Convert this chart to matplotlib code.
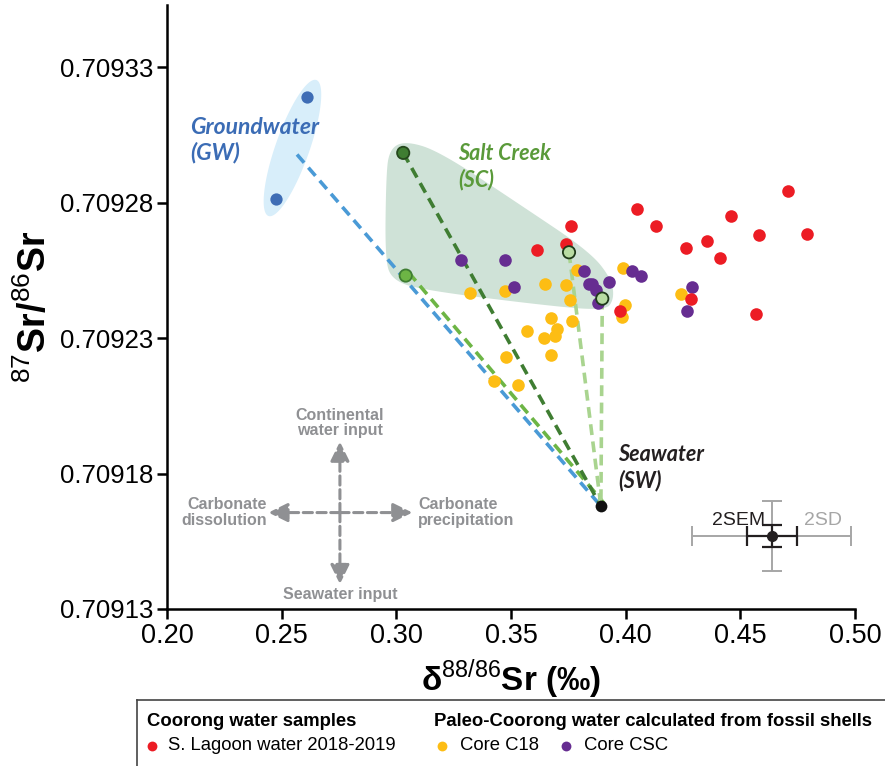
import numpy as np
import matplotlib
matplotlib.use("Agg")
import matplotlib.pyplot as plt
from matplotlib import transforms

plt.rcParams['font.family'] = ['Liberation Sans', 'DejaVu Sans']
plt.rcParams['mathtext.fontset'] = 'custom'
plt.rcParams['mathtext.rm'] = 'Liberation Sans'
plt.rcParams['mathtext.bf'] = 'Liberation Sans:bold'

# --- data (delta 88/86 Sr, 87Sr/86Sr) ---
lagoon_d = [0.4707, 0.4048, 0.4458, 0.3760, 0.4132, 0.4581, 0.4791, 0.3613, 0.3740,
            0.4262, 0.4356, 0.4410, 0.4284, 0.3977, 0.4570]
lagoon_sr = [0.7092842, 0.7092776, 0.7092750, 0.7092715, 0.7092715, 0.7092680, 0.7092683,
             0.7092627, 0.7092646, 0.7092633, 0.7092657, 0.7092597, 0.7092446, 0.7092399,
             0.7092389]

c18_d = [0.3320, 0.3475, 0.3647, 0.3740, 0.3756, 0.3788, 0.3676, 0.3767, 0.3568, 0.3645,
         0.3694, 0.3702, 0.3477, 0.3676, 0.3426, 0.3531, 0.3990, 0.3995, 0.3983, 0.4241]
c18_sr = [0.7092468, 0.7092475, 0.7092500, 0.7092495, 0.7092442, 0.7092553, 0.7092374,
          0.7092362, 0.7092326, 0.7092301, 0.7092307, 0.7092334, 0.7092229, 0.7092238,
          0.7092140, 0.7092128, 0.7092558, 0.7092422, 0.7092377, 0.7092463]

csc_d = [0.3282, 0.3473, 0.3512, 0.3820, 0.3838, 0.3855, 0.3871, 0.3929, 0.3880, 0.4029,
         0.4068, 0.4288, 0.4267]
csc_sr = [0.7092588, 0.7092588, 0.7092489, 0.7092549, 0.7092499, 0.7092500, 0.7092479,
          0.7092507, 0.7092428, 0.7092549, 0.7092528, 0.7092489, 0.7092399]

gw_d = [0.2610, 0.2475]
gw_sr = [0.7093192, 0.7092815]
gw_end = (0.2567, 0.7092978)

sc_d = [0.3030, 0.3041, 0.3753, 0.3898]
sc_sr = [0.7092984, 0.7092531, 0.7092617, 0.7092446]
sc_face = ['#3f7d32', '#6db545', '#b8dca3', '#b8dca3']
sc_edge = ['#25481d', '#3f7d32', '#1f3a1a', '#1f3a1a']

sw = (0.3892, 0.709168)

err_c = (0.4637, 0.709157)
sd_x, sd_y = 0.0347, 1.28e-5
sem_x, sem_y = 0.0110, 4.0e-6

xticks = [0.20, 0.25, 0.30, 0.35, 0.40, 0.45, 0.50]
yticks = [0.70913, 0.70918, 0.70923, 0.70928, 0.70933]

# Salt Creek field outline (smoothed)
sc_field = np.array([(0.2955, 0.7092885), (0.2968, 0.7092996), (0.3038, 0.7093029),
                     (0.3190, 0.7092989), (0.3539, 0.7092793), (0.3845, 0.7092619),
                     (0.3940, 0.7092516), (0.3949, 0.7092442), (0.3910, 0.7092401),
                     (0.3626, 0.7092423), (0.3103, 0.7092479), (0.2981, 0.7092516),
                     (0.2951, 0.7092590)])


def chaikin(pts, n=4):
    for _ in range(n):
        nxt = []
        for i in range(len(pts)):
            p, q = pts[i], pts[(i + 1) % len(pts)]
            nxt.append(0.75 * p + 0.25 * q)
            nxt.append(0.25 * p + 0.75 * q)
        pts = np.array(nxt)
    return pts


fig = plt.figure(figsize=(8.85, 7.66), dpi=100)
ax = fig.add_axes([167 / 885, 157 / 766, 688 / 885, 604 / 766])
ax.set_xlim(0.20, 0.50)
ax.set_ylim(0.70913, 0.709353)

# scale: data units per pixel
sx = 0.30 / 688
sy = 0.0002 / 541

# groundwater ellipse
t = np.linspace(0, 2 * np.pi, 200)
th = np.deg2rad(70.6)
a, b = 72, 17
u, v = a * np.cos(t), b * np.sin(t)
ex = 0.2547 + (u * np.cos(th) - v * np.sin(th)) * sx
ey = 0.7093002 + (u * np.sin(th) + v * np.cos(th)) * sy
ax.fill(ex, ey, color='#d8eefa', lw=0, zorder=1)

# Salt Creek field
sm = chaikin(sc_field)
ax.fill(sm[:, 0], sm[:, 1], color='#cfe2d7', lw=0, zorder=1)

# mixing lines
dash = (0, (3, 1.8))
ax.plot([gw_end[0], sw[0]], [gw_end[1], sw[1]], color='#4a9ad6', lw=2.6, ls=dash, zorder=2)
off = transforms.offset_copy(ax.transData, fig=fig, x=3, y=3, units='dots')
ax.plot([sc_d[1], sw[0]], [sc_sr[1], sw[1]], color='#6db545', lw=2.6, ls=dash, zorder=2,
        transform=off)
ax.plot([sc_d[0], sw[0]], [sc_sr[0], sw[1]], color='#3f7d32', lw=2.6, ls=dash, zorder=2)
ax.plot([sc_d[2], sw[0]], [sc_sr[2], sw[1]], color='#a9d48f', lw=2.6, ls=dash, zorder=2)
ax.plot([sc_d[3], sw[0]], [sc_sr[3], sw[1]], color='#a9d48f', lw=2.6, ls=dash, zorder=2)

# samples
ax.scatter(c18_d, c18_sr, s=82, color='#fdbd14', lw=0, zorder=3)
ax.scatter(csc_d, csc_sr, s=82, color='#662d91', lw=0, zorder=3)
ax.scatter(lagoon_d, lagoon_sr, s=82, color='#ec1c24', lw=0, zorder=3)
ax.scatter(gw_d, gw_sr, s=78, color='#3e6db5', lw=0, zorder=3)
ax.scatter(sc_d, sc_sr, s=78, c=sc_face, edgecolors=sc_edge, lw=1.3, zorder=4)
ax.scatter([sw[0]], [sw[1]], s=72, color='#111111', lw=0, zorder=4)

# end-member labels
ax.text(0.2100, 0.7093118, 'Groundwater\n(GW)', color='#3b6cb5', fontsize=16.5,
        fontweight='bold', style='italic', family='Lato', va='top', linespacing=1.25)
ax.text(0.3269, 0.7093022, 'Salt Creek\n(SC)', color='#5a9a3a', fontsize=15.5,
        fontweight='bold', style='italic', family='Lato', va='top', linespacing=1.3)
ax.text(0.3967, 0.709191, 'Seawater\n(SW)', color='#231f20', fontsize=15.5,
        fontweight='bold', style='italic', family='Lato', va='top', linespacing=1.3)

# process arrows
acx, acy = 0.2754, 0.7091656
tips = [(acx, 0.7091918), (acx, 0.7091392), (0.2442, acy), (0.3070, acy)]
for tip in tips:
    ax.annotate('', xy=tip, xytext=(acx, acy),
                arrowprops=dict(arrowstyle='-|>,head_length=0.65,head_width=0.32',
                                lw=2.2, ls=(0, (3, 1.5)), color='#8f9093',
                                shrinkA=0, shrinkB=0, mutation_scale=18))
gray = '#8f9093'
ax.text(acx, 0.7091987, 'Continental\nwater input', ha='center', va='center',
        color=gray, fontsize=11.5, fontweight='bold', linespacing=1.05)
ax.text(0.2436, acy, 'Carbonate\ndissolution', ha='right', va='center',
        color=gray, fontsize=11.5, fontweight='bold', linespacing=1.05)
ax.text(0.3094, acy, 'Carbonate\nprecipitation', ha='left', va='center',
        color=gray, fontsize=11.5, fontweight='bold', linespacing=1.05)
ax.text(acx, 0.7091352, 'Seawater input', ha='center', va='center',
        color=gray, fontsize=11.5, fontweight='bold')

# analytical uncertainty
ax.errorbar(err_c[0], err_c[1], xerr=sd_x, yerr=sd_y, fmt='none', ecolor='#a6a6a6',
            elinewidth=1.4, capsize=7, capthick=1.4, zorder=3)
ax.errorbar(err_c[0], err_c[1], xerr=sem_x, yerr=sem_y, fmt='o', color='#231f20', ms=7,
            elinewidth=1.6, capsize=7, capthick=1.6, zorder=4)
ax.text(0.4608, 0.7091625, '2SEM', ha='right', va='center', fontsize=14, color='#231f20')
ax.text(0.4778, 0.7091625, '2SD', ha='left', va='center', fontsize=14, color='#a6a6a6')

# axes styling
for side in ['top', 'right']:
    ax.spines[side].set_visible(False)
for side in ['left', 'bottom']:
    ax.spines[side].set_linewidth(1.8)
ax.set_xticks(xticks)
ax.set_xticklabels(['%.2f' % x for x in xticks], fontsize=19.5)
ax.set_yticks(yticks)
ax.set_yticklabels(['%.5f' % y for y in yticks], fontsize=18.5)
ax.tick_params(direction='out', length=7, width=1.8, pad=3)
ax.set_xlabel(r'δ$^{88/86}$Sr (‰)', fontsize=24, fontweight='bold', labelpad=6)
ax.set_ylabel(r'$^{87}$Sr/$^{86}$Sr', fontsize=27, fontweight='bold', labelpad=4)

# legend box
leg = fig.add_axes([137 / 885, 0, 1.0, 66 / 766])
leg.set_xlim(137, 1022)
leg.set_ylim(766, 700)
leg.set_xticks([])
leg.set_yticks([])
leg.patch.set_alpha(0)
for side in ['right', 'bottom']:
    leg.spines[side].set_visible(False)
for side in ['top', 'left']:
    leg.spines[side].set_linewidth(1.2)
    leg.spines[side].set_color('#444444')
fs = 13.3
leg.text(147, 721, 'Coorong water samples', fontsize=fs, fontweight='bold', va='center')
leg.text(434, 721, 'Paleo-Coorong water calculated from fossil shells', fontsize=fs,
         fontweight='bold', va='center')
leg.scatter([152], [746], s=50, color='#ec1c24', lw=0)
leg.text(168, 746, 'S. Lagoon water 2018-2019', fontsize=fs, va='center')
leg.scatter([442], [746], s=50, color='#fdbd14', lw=0)
leg.text(460, 746, 'Core C18', fontsize=fs, va='center')
leg.scatter([566], [746], s=50, color='#662d91', lw=0)
leg.text(584, 746, 'Core CSC', fontsize=fs, va='center')

fig.savefig('out.png', dpi=100)
